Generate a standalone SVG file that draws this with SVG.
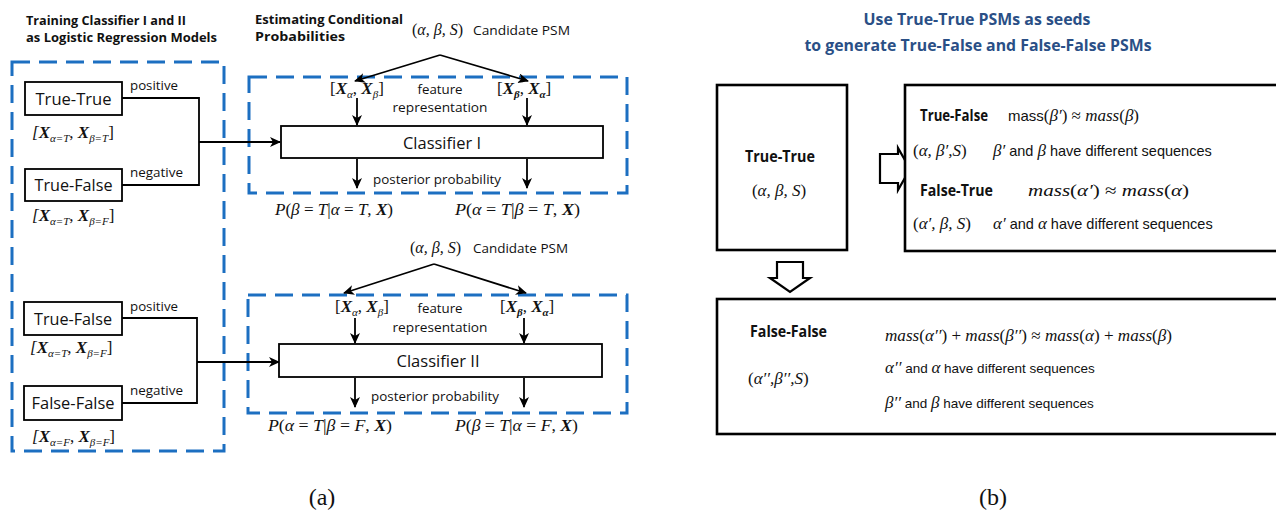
<svg xmlns="http://www.w3.org/2000/svg" width="1276" height="512" viewBox="0 0 1276 512">
<defs>
<marker id="ah" markerUnits="userSpaceOnUse" markerWidth="11" markerHeight="10" refX="10" refY="5" orient="auto">
<path d="M0,0 L11,5 L0,10 L3,5 z" fill="#000"/>
</marker>
<style>
.sans{font-family:"Open Sans","Liberation Sans",sans-serif;fill:#111}
.sl{font-family:"Liberation Sans",Arial,sans-serif;font-style:normal;fill:#111}
.bold{font-weight:bold}
.math{font-family:"Liberation Serif","DejaVu Serif",serif;font-style:italic;fill:#111}
.up{font-style:normal}
.bx{font-weight:bold}
.sub{font-size:11px}
.box{fill:#fff;stroke:#000;stroke-width:1.8}
.bigbox{fill:#fff;stroke:#000;stroke-width:2.6}
.dash{fill:none;stroke:#1c6fc1;stroke-width:3;stroke-dasharray:18 9}
.ln{fill:none;stroke:#000;stroke-width:1.8}
.arr{fill:none;stroke:#000;stroke-width:1.8;marker-end:url(#ah)}
.hollow{fill:#fff;stroke:#000;stroke-width:2.2;stroke-linejoin:miter}
.title{font-family:"Open Sans","Liberation Sans",sans-serif;font-weight:bold;fill:#2a4f86}
.cap{font-family:"Liberation Serif","DejaVu Serif",serif;font-size:24px;fill:#111}
</style>
</defs>
<rect width="1276" height="512" fill="#fff"/>

<!-- Panel (a) headers -->
<g id="header-a">
<text class="sans bold" x="26" y="25" font-size="13" textLength="160" lengthAdjust="spacingAndGlyphs">Training Classifier I and II</text>
<text class="sans bold" x="26" y="42" font-size="13" textLength="191" lengthAdjust="spacingAndGlyphs">as Logistic Regression Models</text>
<text class="sans bold" x="255" y="24" font-size="13" textLength="148" lengthAdjust="spacingAndGlyphs">Estimating Conditional</text>
<text class="sans bold" x="255" y="41" font-size="13" textLength="90" lengthAdjust="spacingAndGlyphs">Probabilities</text>
</g>

<!-- dashed groups -->
<g id="training-group"><rect class="dash" x="12" y="62" width="212" height="389"/></g>
<g id="est-group-1"><rect class="dash" x="249" y="77" width="378" height="116"/></g>
<g id="est-group-2"><rect class="dash" x="248" y="295" width="379" height="118"/></g>

<!-- connectors -->
<g id="connectors">
<polyline class="ln" points="122,98 199,98 199,185 122,185"/>
<line class="arr" x1="199" y1="142" x2="280" y2="142"/>
<polyline class="ln" points="122,318 197,318 197,403 122,403"/>
<line class="arr" x1="197" y1="362" x2="279" y2="362"/>
<line class="arr" x1="440" y1="55" x2="355" y2="81"/>
<line class="arr" x1="440" y1="55" x2="528" y2="81"/>
<line class="arr" x1="357" y1="98" x2="357" y2="125"/>
<line class="arr" x1="527" y1="98" x2="527" y2="125"/>
<line class="arr" x1="357" y1="159" x2="357" y2="188"/>
<line class="arr" x1="527" y1="159" x2="527" y2="188"/>
<line class="arr" x1="434" y1="264" x2="344" y2="293"/>
<line class="arr" x1="434" y1="264" x2="526" y2="293"/>
<line class="arr" x1="355" y1="318" x2="355" y2="343"/>
<line class="arr" x1="524" y1="318" x2="524" y2="343"/>
<line class="arr" x1="355" y1="378" x2="355" y2="407"/>
<line class="arr" x1="524" y1="378" x2="524" y2="407"/>
</g>

<!-- Training nodes -->
<g id="tt1">
<rect class="box" x="25" y="82" width="97" height="33"/>
<text class="sans" x="73.5" y="105" font-size="17" text-anchor="middle" textLength="76" lengthAdjust="spacingAndGlyphs">True-True</text>
<text class="math" x="32" y="138" font-size="17">[<tspan class="bx">X</tspan><tspan class="sub" dy="4">α=T</tspan><tspan dy="-4" class="up">, </tspan><tspan class="bx">X</tspan><tspan class="sub" dy="4">β=T</tspan><tspan dy="-4" class="up">]</tspan></text>
<text class="sans" x="130" y="90" font-size="13" textLength="48" lengthAdjust="spacingAndGlyphs">positive</text>
</g>
<g id="tf1">
<rect class="box" x="25" y="169" width="97" height="32"/>
<text class="sans" x="73.5" y="191" font-size="17" text-anchor="middle" textLength="78" lengthAdjust="spacingAndGlyphs">True-False</text>
<text class="math" x="32" y="221" font-size="17">[<tspan class="bx">X</tspan><tspan class="sub" dy="4">α=T</tspan><tspan dy="-4" class="up">, </tspan><tspan class="bx">X</tspan><tspan class="sub" dy="4">β=F</tspan><tspan dy="-4" class="up">]</tspan></text>
<text class="sans" x="130" y="177" font-size="13" textLength="53" lengthAdjust="spacingAndGlyphs">negative</text>
</g>
<g id="tf2">
<rect class="box" x="24" y="302" width="98" height="33"/>
<text class="sans" x="73" y="325" font-size="17" text-anchor="middle" textLength="78" lengthAdjust="spacingAndGlyphs">True-False</text>
<text class="math" x="30" y="353" font-size="17">[<tspan class="bx">X</tspan><tspan class="sub" dy="4">α=T</tspan><tspan dy="-4" class="up">, </tspan><tspan class="bx">X</tspan><tspan class="sub" dy="4">β=F</tspan><tspan dy="-4" class="up">]</tspan></text>
<text class="sans" x="130" y="311" font-size="13" textLength="48" lengthAdjust="spacingAndGlyphs">positive</text>
</g>
<g id="ff2">
<rect class="box" x="24" y="386" width="98" height="34"/>
<text class="sans" x="73" y="409" font-size="17" text-anchor="middle" textLength="83" lengthAdjust="spacingAndGlyphs">False-False</text>
<text class="math" x="32" y="442" font-size="17">[<tspan class="bx">X</tspan><tspan class="sub" dy="4">α=F</tspan><tspan dy="-4" class="up">, </tspan><tspan class="bx">X</tspan><tspan class="sub" dy="4">β=F</tspan><tspan dy="-4" class="up">]</tspan></text>
<text class="sans" x="130" y="395" font-size="13" textLength="53" lengthAdjust="spacingAndGlyphs">negative</text>
</g>

<!-- Classifier I -->
<g id="cand1">
<text class="math" x="412" y="35" font-size="16"><tspan class="up">(</tspan>α, β, S<tspan class="up">)</tspan></text>
<text class="sans" x="473" y="35" font-size="13" textLength="97" lengthAdjust="spacingAndGlyphs">Candidate PSM</text>
</g>
<g id="feat1">
<text class="math" x="330" y="94" font-size="17"><tspan class="up">[</tspan><tspan class="bx">X</tspan><tspan class="sub" dy="4">α</tspan><tspan dy="-4" class="up">, </tspan><tspan class="bx">X</tspan><tspan class="sub" dy="4">β</tspan><tspan dy="-4" class="up">]</tspan></text>
<text class="math" x="497" y="94" font-size="17"><tspan class="up">[</tspan><tspan class="bx">X</tspan><tspan class="sub bx" dy="4">β</tspan><tspan dy="-4" class="up">, </tspan><tspan class="bx">X</tspan><tspan class="sub bx" dy="4">α</tspan><tspan dy="-4" class="up">]</tspan></text>
<text class="sans" x="440" y="94" font-size="13" text-anchor="middle" textLength="45" lengthAdjust="spacingAndGlyphs">feature</text>
<text class="sans" x="440" y="112" font-size="13" text-anchor="middle" textLength="95" lengthAdjust="spacingAndGlyphs">representation</text>
</g>
<g id="classifier1">
<rect class="box" x="281" y="126" width="322" height="32"/>
<text class="sans" x="442" y="149" font-size="17" text-anchor="middle" textLength="78" lengthAdjust="spacingAndGlyphs">Classifier I</text>
</g>
<g id="post1">
<text class="sans" x="437" y="184" font-size="13" text-anchor="middle" textLength="128" lengthAdjust="spacingAndGlyphs">posterior probability</text>
<text class="math" x="275" y="215" font-size="16" textLength="118" lengthAdjust="spacingAndGlyphs">P<tspan class="up">(</tspan>β <tspan class="up">=</tspan> T<tspan class="up">|</tspan>α <tspan class="up">=</tspan> T<tspan class="up">, </tspan><tspan class="bx">X</tspan><tspan class="up">)</tspan></text>
<text class="math" x="455" y="215" font-size="16" textLength="125" lengthAdjust="spacingAndGlyphs">P<tspan class="up">(</tspan>α <tspan class="up">=</tspan> T<tspan class="up">|</tspan>β <tspan class="up">=</tspan> T<tspan class="up">, </tspan><tspan class="bx">X</tspan><tspan class="up">)</tspan></text>
</g>

<!-- Classifier II -->
<g id="cand2">
<text class="math" x="410" y="253" font-size="16"><tspan class="up">(</tspan>α, β, S<tspan class="up">)</tspan></text>
<text class="sans" x="473" y="253" font-size="13" textLength="95" lengthAdjust="spacingAndGlyphs">Candidate PSM</text>
</g>
<g id="feat2">
<text class="math" x="335" y="312" font-size="17"><tspan class="up">[</tspan><tspan class="bx">X</tspan><tspan class="sub" dy="4">α</tspan><tspan dy="-4" class="up">, </tspan><tspan class="bx">X</tspan><tspan class="sub" dy="4">β</tspan><tspan dy="-4" class="up">]</tspan></text>
<text class="math" x="500" y="312" font-size="17"><tspan class="up">[</tspan><tspan class="bx">X</tspan><tspan class="sub bx" dy="4">β</tspan><tspan dy="-4" class="up">, </tspan><tspan class="bx">X</tspan><tspan class="sub bx" dy="4">α</tspan><tspan dy="-4" class="up">]</tspan></text>
<text class="sans" x="440" y="313" font-size="13" text-anchor="middle" textLength="45" lengthAdjust="spacingAndGlyphs">feature</text>
<text class="sans" x="440" y="332" font-size="13" text-anchor="middle" textLength="95" lengthAdjust="spacingAndGlyphs">representation</text>
</g>
<g id="classifier2">
<rect class="box" x="279" y="344" width="323" height="33"/>
<text class="sans" x="438" y="367" font-size="17" text-anchor="middle" textLength="83" lengthAdjust="spacingAndGlyphs">Classifier II</text>
</g>
<g id="post2">
<text class="sans" x="435" y="401" font-size="13" text-anchor="middle" textLength="128" lengthAdjust="spacingAndGlyphs">posterior probability</text>
<text class="math" x="268" y="431" font-size="16" textLength="124" lengthAdjust="spacingAndGlyphs">P<tspan class="up">(</tspan>α <tspan class="up">=</tspan> T<tspan class="up">|</tspan>β <tspan class="up">=</tspan> F<tspan class="up">, </tspan><tspan class="bx">X</tspan><tspan class="up">)</tspan></text>
<text class="math" x="455" y="431" font-size="16" textLength="123" lengthAdjust="spacingAndGlyphs">P<tspan class="up">(</tspan>β <tspan class="up">=</tspan> T<tspan class="up">|</tspan>α <tspan class="up">=</tspan> F<tspan class="up">, </tspan><tspan class="bx">X</tspan><tspan class="up">)</tspan></text>
</g>

<!-- Panel (b) -->
<g id="title-b">
<text class="title" x="977" y="25" font-size="16" text-anchor="middle" textLength="227" lengthAdjust="spacingAndGlyphs">Use True-True PSMs as seeds</text>
<text class="title" x="978" y="51" font-size="16" text-anchor="middle" textLength="347" lengthAdjust="spacingAndGlyphs">to generate True-False and False-False PSMs</text>
</g>
<g id="truetrue-b">
<rect class="bigbox" x="717" y="85" width="130" height="165"/>
<text class="sans bold" x="780" y="162" font-size="16" text-anchor="middle" textLength="70" lengthAdjust="spacingAndGlyphs">True-True</text>
<text class="math" x="779" y="196" font-size="17" text-anchor="middle"><tspan class="up">(</tspan>α, β, S<tspan class="up">)</tspan></text>
</g>
<g id="arrow-right">
<polygon class="hollow" points="880,154 898,154 898,148 910,169 898,190 898,183 880,183"/>
</g>
<g id="arrow-down">
<polygon class="hollow" points="777,262 803,262 803,278 810,278 790,292 770,278 777,278"/>
</g>
<g id="tf-ft-b">
<rect class="bigbox" x="905" y="85" width="380" height="166"/>
<text class="sans bold" x="920" y="121" font-size="16" textLength="68" lengthAdjust="spacingAndGlyphs">True-False</text>
<text class="math" x="1008" y="121" font-size="17"><tspan class="sl" font-size="15">mass</tspan><tspan class="up">(</tspan>β′<tspan class="up">) ≈ </tspan>mass<tspan class="up">(</tspan>β<tspan class="up">)</tspan></text>
<text class="math" x="913" y="156" font-size="17"><tspan class="up">(</tspan>α, β′,S<tspan class="up">)</tspan></text>
<text class="math" x="993" y="156" font-size="17">β′<tspan class="sl" font-size="14.5"> and </tspan>β<tspan class="sl" font-size="14.5"> have different sequences</tspan></text>
<text class="sans bold" x="920" y="196" font-size="16" textLength="73" lengthAdjust="spacingAndGlyphs">False-True</text>
<text class="math" x="1028" y="196" font-size="17" textLength="161" lengthAdjust="spacingAndGlyphs">mass<tspan class="up">(</tspan>α′<tspan class="up">) ≈ </tspan>mass<tspan class="up">(</tspan>α<tspan class="up">)</tspan></text>
<text class="math" x="913" y="229" font-size="17"><tspan class="up">(</tspan>α′, β, S<tspan class="up">)</tspan></text>
<text class="math" x="993" y="229" font-size="17">α′<tspan class="sl" font-size="14.5"> and </tspan>α<tspan class="sl" font-size="14.5"> have different sequences</tspan></text>
</g>
<g id="ff-b">
<rect class="bigbox" x="717" y="299" width="570" height="135"/>
<text class="sans bold" x="750" y="337" font-size="16" textLength="77" lengthAdjust="spacingAndGlyphs">False-False</text>
<text class="math" x="885" y="341" font-size="17" textLength="287" lengthAdjust="spacingAndGlyphs">mass<tspan class="up">(</tspan>α′′<tspan class="up">) + </tspan>mass<tspan class="up">(</tspan>β′′<tspan class="up">) ≈ </tspan>mass<tspan class="up">(</tspan>α<tspan class="up">) + </tspan>mass<tspan class="up">(</tspan>β<tspan class="up">)</tspan></text>
<text class="math" x="748" y="384" font-size="17"><tspan class="up">(</tspan>α′′,β′′,S<tspan class="up">)</tspan></text>
<text class="math" x="885" y="373" font-size="17">α′′<tspan class="sl" font-size="13.5"> and </tspan>α<tspan class="sl" font-size="13.5"> have different sequences</tspan></text>
<text class="math" x="885" y="408" font-size="17">β′′<tspan class="sl" font-size="13.5"> and </tspan>β<tspan class="sl" font-size="13.5"> have different sequences</tspan></text>
</g>

<g id="captions">
<text class="cap" x="322" y="505" text-anchor="middle">(a)</text>
<text class="cap" x="993" y="505" text-anchor="middle">(b)</text>
</g>
</svg>
